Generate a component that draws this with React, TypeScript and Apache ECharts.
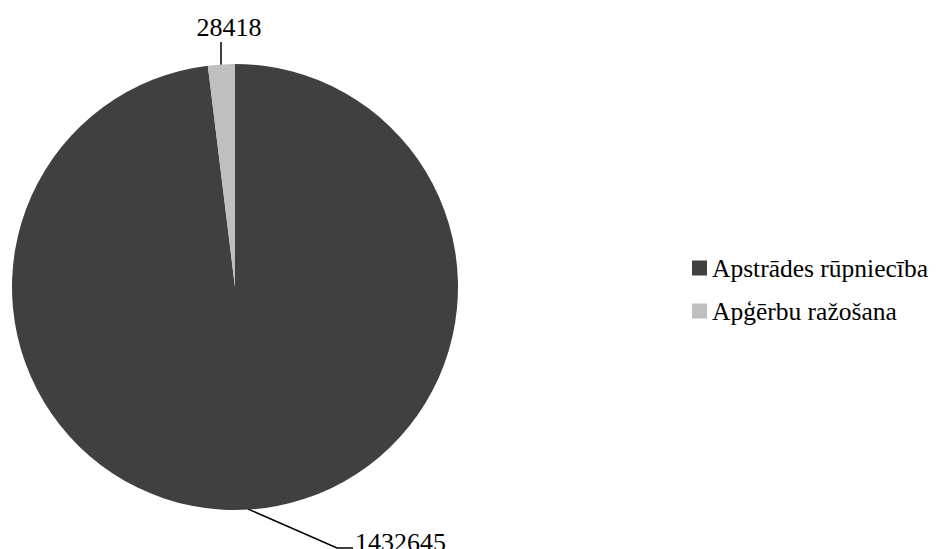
import React, { useEffect, useRef } from "react";
import * as echarts from "echarts";

const categories = ["Apstrādes rūpniecība", "Apģērbu ražošana"];
const values = [1432645, 28418];
const colors = ["#404040", "#bfbfbf"];

const FONT = "Liberation Serif";

export default function App() {
  const ref = useRef<HTMLDivElement>(null);
  useEffect(() => {
    if (!ref.current) return;
    const chart = echarts.init(ref.current, undefined, { renderer: "svg" });
    chart.setOption({
      animation: false,
      backgroundColor: "#ffffff",
      textStyle: { fontFamily: FONT },
      legend: {
        orient: "vertical",
        left: 687,
        top: 250,
        itemWidth: 15,
        itemHeight: 15,
        itemGap: 17,
        icon: "rect",
        textStyle: {
          fontFamily: FONT,
          fontSize: 25.5,
          lineHeight: 26,
          color: "#000",
        },
        data: categories,
      },
      series: [
        {
          type: "pie",
          center: [235, 287],
          radius: 223,
          startAngle: 90,
          clockwise: true,
          data: categories.map((c, i) => ({
            name: c,
            value: values[i],
            itemStyle: { color: colors[i] },
          })),
          label: {
            show: true,
            position: "outside",
            formatter: "{c}",
            fontFamily: FONT,
            fontSize: 26,
            color: "#000",
          },
          labelLine: { show: true, lineStyle: { color: "#000", width: 1.5 } },
          labelLayout: (p: any) => {
            if (p.dataIndex === 1) {
              return {
                x: 229,
                y: 27,
                align: "center",
                verticalAlign: "middle",
                labelLinePoints: [
                  [221, 65],
                  [221, 54],
                  [221, 42],
                ],
              };
            }
            return {
              x: 355,
              y: 542,
              align: "left",
              verticalAlign: "middle",
              labelLinePoints: [
                [248, 509],
                [337, 548],
                [353, 548],
              ],
            };
          },
        },
      ],
    });
    return () => chart.dispose();
  }, []);
  return (
    <div
      ref={ref}
      style={{ position: "fixed", left: 0, top: 0, width: 937, height: 549 }}
    />
  );
}
